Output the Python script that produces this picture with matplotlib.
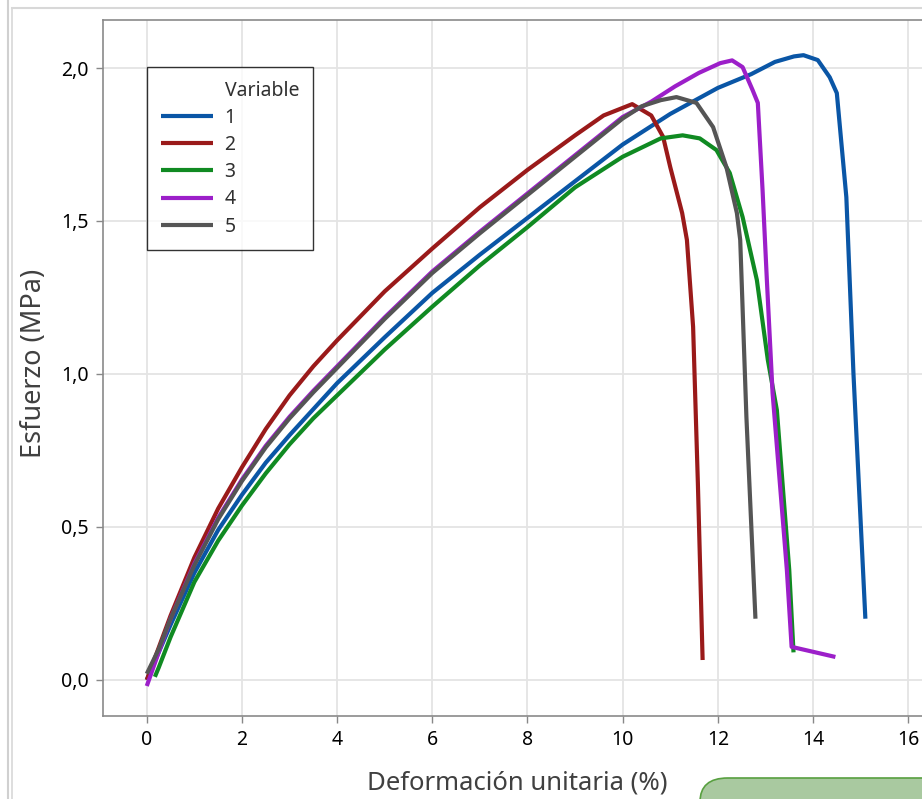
import matplotlib
matplotlib.use("Agg")
import matplotlib.pyplot as plt
from matplotlib.lines import Line2D
from matplotlib.patches import FancyBboxPatch

plt.rcParams['font.family'] = ['Noto Sans', 'DejaVu Sans']

# curve data: deformacion (%) vs esfuerzo (MPa)
x1 = [0, 0.25, 0.5, 1, 1.5, 2, 2.5, 3, 3.5, 4, 5, 6, 7, 8, 9, 10, 11, 12, 12.7, 13.2, 13.6, 13.8, 14.1, 14.35, 14.5, 14.7, 14.85, 15.1]
y1 = [0, 0.09, 0.18, 0.35, 0.49, 0.605, 0.71, 0.80, 0.885, 0.97, 1.12, 1.265, 1.39, 1.51, 1.63, 1.75, 1.85, 1.935, 1.98, 2.02, 2.038, 2.042, 2.026, 1.97, 1.918, 1.578, 1.0, 0.20]

x2 = [0, 0.25, 0.5, 1, 1.5, 2, 2.5, 3, 3.5, 4, 5, 6, 7, 8, 9, 9.6, 10.2, 10.6, 10.85, 11.0, 11.25, 11.35, 11.48, 11.58, 11.68]
y2 = [0, 0.105, 0.21, 0.40, 0.56, 0.695, 0.82, 0.93, 1.025, 1.11, 1.27, 1.41, 1.545, 1.667, 1.78, 1.845, 1.882, 1.845, 1.775, 1.676, 1.526, 1.438, 1.154, 0.644, 0.065]

x3 = [0.17, 0.25, 0.5, 1, 1.5, 2, 2.5, 3, 3.5, 4, 5, 6, 7, 8, 9, 10, 10.8, 11.26, 11.62, 11.97, 12.25, 12.52, 12.82, 13.05, 13.24, 13.5, 13.59]
y3 = [0.01, 0.04, 0.14, 0.32, 0.455, 0.57, 0.675, 0.77, 0.855, 0.93, 1.08, 1.22, 1.355, 1.48, 1.61, 1.71, 1.77, 1.78, 1.77, 1.732, 1.657, 1.513, 1.307, 1.046, 0.882, 0.36, 0.09]

x4 = [0, 0.25, 0.5, 1, 1.5, 2, 2.5, 3, 3.5, 4, 5, 6, 7, 8, 9, 10, 10.6, 11.1, 11.6, 12.05, 12.3, 12.52, 12.73, 12.84, 12.94, 13.03, 13.15, 13.45, 13.55, 14.47]
y4 = [-0.02, 0.09, 0.2, 0.38, 0.53, 0.655, 0.765, 0.86, 0.945, 1.025, 1.185, 1.335, 1.465, 1.59, 1.715, 1.84, 1.89, 1.94, 1.984, 2.016, 2.025, 2.003, 1.928, 1.886, 1.6, 1.307, 0.938, 0.36, 0.108, 0.075]

x5 = [0, 0.25, 0.5, 1, 1.5, 2, 2.5, 3, 3.5, 4, 5, 6, 7, 8, 9, 10, 10.4, 10.8, 11.13, 11.55, 11.9, 12.18, 12.4, 12.47, 12.6, 12.79]
y5 = [0.02, 0.1, 0.2, 0.375, 0.525, 0.65, 0.76, 0.855, 0.94, 1.02, 1.18, 1.33, 1.46, 1.585, 1.71, 1.835, 1.875, 1.895, 1.905, 1.886, 1.807, 1.676, 1.526, 1.438, 0.86, 0.20]

names = ['1', '2', '3', '4', '5']
colors = ['#0a56a6', '#9a1a1a', '#108a22', '#9c1fc9', '#555555']
xticks = [0, 2, 4, 6, 8, 10, 12, 14, 16]
yticks = [0.0, 0.5, 1.0, 1.5, 2.0]
ytick_labels = ['0,0', '0,5', '1,0', '1,5', '2,0']

W, H = 922, 799
fig = plt.figure(figsize=(W / 100, H / 100), dpi=100)
ax = fig.add_axes([103 / W, 1 - 716 / H, 829 / W, 696 / H])

series = [(x1, y1), (x2, y2), (x3, y3), (x4, y4), (x5, y5)]
handles = []
for (xs, ys), name, c in zip(series, names, colors):
    ln, = ax.plot(xs, ys, color=c, lw=3, label=name, solid_joinstyle='round', solid_capstyle='butt')
    handles.append(ln)

ax.set_xlim(-0.92, 16.5)
ax.set_ylim(-0.118, 2.157)
ax.set_xticks(xticks)
ax.set_yticks(yticks)
ax.set_yticklabels(ytick_labels)
ax.grid(True, color='#e4e4e4', lw=1.3)
ax.set_axisbelow(True)
ax.tick_params(direction='out', length=5, width=1, color='#888888', labelsize=14, labelcolor='black', pad=5)
for side in ['left', 'bottom', 'top']:
    ax.spines[side].set_color('#8a8a8a')
    ax.spines[side].set_linewidth(1.2)
ax.spines['right'].set_visible(False)

ax.set_xlabel('Deformación unitaria (%)', fontsize=18.5, color='#404040')
ax.set_ylabel('Esfuerzo (MPa)', fontsize=19.5, color='#404040')
ax.xaxis.set_label_coords(0.5, -(771 - 716) / 696)
ax.yaxis.set_label_coords(-(103 - 48) / 829, 0.5 - (363 - 368) / 696)

title_handle = Line2D([], [], alpha=0)
leg = ax.legend([title_handle] + handles, ['Variable'] + names,
                loc='upper left', bbox_to_anchor=(147 / W, 1 - 67 / H),
                bbox_transform=fig.transFigure, borderaxespad=0,
                fontsize=14, frameon=True, fancybox=False, edgecolor='black',
                handlelength=2.67, handletextpad=0.62, labelspacing=0.37,
                borderpad=0.7)
leg.get_frame().set_linewidth(1.0)
for t in leg.get_texts():
    t.set_color('#303030')

# outer frame of the screenshot
fig.add_artist(Line2D([8 / W, 8 / W], [0, 1], transform=fig.transFigure, color='#d0d0d0', lw=1.5))
fig.add_artist(Line2D([12 / W, 12 / W], [0, 1 - 8 / H], transform=fig.transFigure, color='#d8d8d8', lw=1.2))
fig.add_artist(Line2D([12 / W, 1], [1 - 8 / H, 1 - 8 / H], transform=fig.transFigure, color='#d8d8d8', lw=1.5))

# green shape at bottom right of the screenshot
fig.add_artist(FancyBboxPatch((700 / W, -0.05), 0.5, 0.05 + 21 / H,
                              boxstyle='round,pad=0,rounding_size=0.03',
                              transform=fig.transFigure, facecolor='#a9c9a0',
                              edgecolor='#58a040', lw=1.2))

fig.savefig('out.png', dpi=100)
